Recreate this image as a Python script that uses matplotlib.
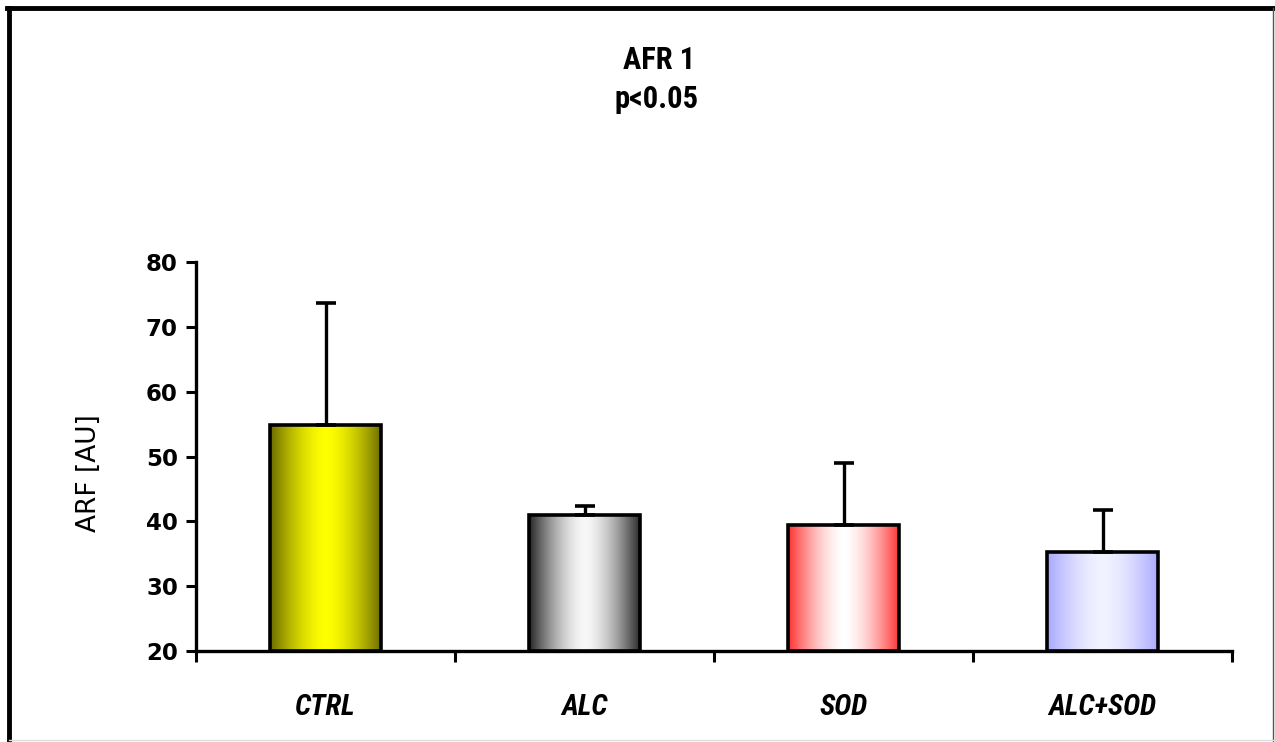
import numpy as np
import matplotlib
matplotlib.use("Agg")
import matplotlib.pyplot as plt
from matplotlib.colors import to_rgb
from matplotlib.lines import Line2D
from matplotlib import font_manager

groups = ["CTRL", "ALC", "SOD", "ALC+SOD"]
means = [54.9, 41.0, 39.5, 35.2]
errors = [18.7, 1.4, 9.5, 6.5]
edge_cols = ["#6a6a00", "#262626", "#ff3030", "#a8a8ff"]
mid_cols = ["#ffff00", "#f8f8f8", "#ffffff", "#f2f2ff"]
yticks = [20, 30, 40, 50, 60, 70, 80]

installed = {f.name for f in font_manager.fontManager.ttflist}
narrow = [f for f in ["Roboto Condensed", "Liberation Sans Narrow", "DejaVu Sans Condensed"]
          if f in installed] + ["DejaVu Sans"]

fig = plt.figure(figsize=(12.75, 7.42), dpi=100)
ax = fig.add_axes([196 / 1275, 1 - 651 / 742, (1232 - 196) / 1275, (651 - 262) / 742])

x = np.arange(len(groups))
w = 0.43
bars = ax.bar(x, np.array(means) - 20, bottom=20, width=w, facecolor="none",
              edgecolor="black", linewidth=2.6, zorder=3, clip_on=False)
ax.errorbar(x, means, yerr=[np.zeros(len(errors)), errors], fmt="none",
            ecolor="black", elinewidth=2.4, capsize=7, capthick=2.6, zorder=2)

# horizontal gradient inside each bar
t = np.linspace(0, 1, 200)
prof = np.abs(t - 0.5) * 2
prof = prof ** 1.6
for b, e, m in zip(bars, edge_cols, mid_cols):
    e, m = np.array(to_rgb(e)), np.array(to_rgb(m))
    img = (m[None, :] * (1 - prof[:, None]) + e[None, :] * prof[:, None])[None, :, :]
    bx, by = b.get_x(), b.get_y()
    im = ax.imshow(img, extent=[bx, bx + b.get_width(), by, by + b.get_height()],
                   aspect="auto", zorder=1, interpolation="bilinear")
    im.set_clip_path(b)

ax.set_xlim(-0.5, len(groups) - 0.5)
ax.set_ylim(20, 80)
ax.set_yticks(yticks)
ax.set_yticklabels([str(v) for v in yticks], fontsize=16.5, fontweight="bold",
                   family="DejaVu Sans")
ax.set_xticks(np.arange(len(groups) + 1) - 0.5)
ax.set_xticklabels([])
ax.set_xticks(x, minor=True)
ax.set_xticklabels(groups, minor=True, fontsize=21, family=narrow, style="italic",
                   fontweight="bold")
ax.tick_params(axis="x", which="minor", length=0, pad=30)
ax.tick_params(axis="x", which="major", length=8, width=2.2, direction="out")
ax.tick_params(axis="y", length=7, width=2.2, pad=6)
for s in ["top", "right"]:
    ax.spines[s].set_visible(False)
for s in ["left", "bottom"]:
    ax.spines[s].set_linewidth(2.4)
ax.patch.set_alpha(0)

fig.text(89 / 1275, 1 - 473 / 742, "ARF [AU]", rotation=90, ha="center", va="center",
         fontsize=19, family="DejaVu Sans")
fig.text(659 / 1275, 1 - 60 / 742, "AFR 1", ha="center", va="center", fontsize=22,
         family=narrow, fontweight="bold")
fig.text(657 / 1275, 1 - 99 / 742, "p<0.05", ha="center", va="center", fontsize=22,
         family=narrow, fontweight="bold")

# frame around the chart
fig.add_artist(Line2D([9 / 1275, 9 / 1275], [0, 1 - 8 / 742], color="black", lw=3.5,
                      transform=fig.transFigure))
fig.add_artist(Line2D([7 / 1275, 1], [1 - 8 / 742, 1 - 8 / 742], color="black", lw=3.5,
                      transform=fig.transFigure))
fig.add_artist(Line2D([1273 / 1275, 1273 / 1275], [0, 1 - 8 / 742], color="#555555", lw=1,
                      transform=fig.transFigure))
fig.add_artist(Line2D([9 / 1275, 1273 / 1275], [2 / 742, 2 / 742], color="#dddddd", lw=1,
                      transform=fig.transFigure))

fig.savefig("out.png", dpi=100, facecolor="white")
